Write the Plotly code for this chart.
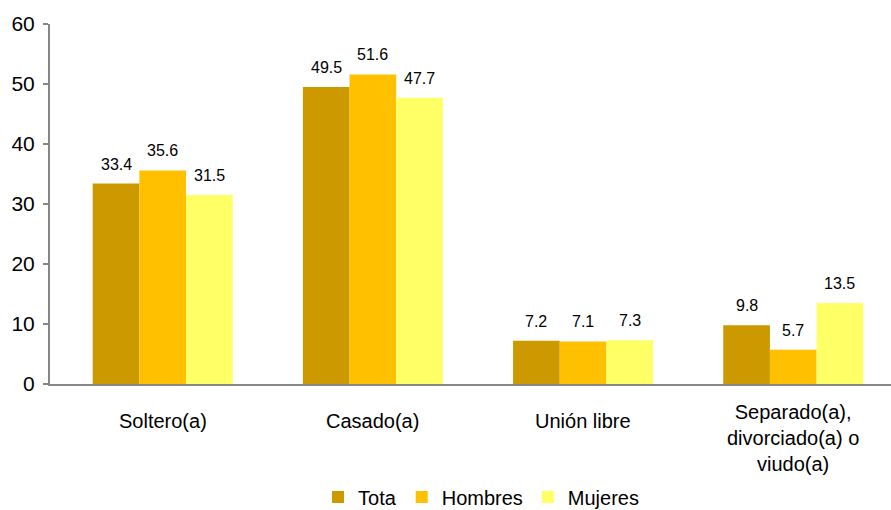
import plotly.graph_objects as go

categories = ["Soltero(a)", "Casado(a)", "Unión libre", "Separado(a),<br>divorciado(a) o<br>viudo(a)"]
tota = [33.4, 49.5, 7.2, 9.8]
hombres = [35.6, 51.6, 7.1, 5.7]
mujeres = [31.5, 47.7, 7.3, 13.5]
series_names = ["Tota", "Hombres", "Mujeres"]
series_values = [tota, hombres, mujeres]
colors = ["#CC9900", "#FFC000", "#FFFF66"]
y_ticks = [0, 10, 20, 30, 40, 50, 60]

FONT = "Liberation Sans, Arial, sans-serif"
bargap = 0.334

fig = go.Figure()
for name, vals, col in zip(series_names, series_values, colors):
    fig.add_trace(go.Bar(
        name=name, x=list(range(len(categories))), y=vals,
        marker=dict(color=col, line=dict(width=0)),
    ))

# data labels via annotations (placed through the axis scales)
n = len(series_names)
w = (1 - bargap) / n
for j, vals in enumerate(series_values):
    for i, v in enumerate(vals):
        fig.add_annotation(
            x=i + (j - (n - 1) / 2) * w, y=v, xref="x", yref="y",
            text=f"{v:.1f}", showarrow=False, yanchor="bottom", yshift=9,
            font=dict(family=FONT, size=16, color="#000000"),
        )

# category labels (multi-line label sits slightly higher, as in the original)
for i, cat in enumerate(categories):
    nlines = cat.count("<br>") + 1
    fig.add_annotation(
        x=i, y=0, xref="x", yref="paper", text=cat, showarrow=False,
        yanchor="middle", yshift=-(36.5 + (nlines - 1) * 8.5),
        font=dict(family=FONT, size=20, color="#000000"),
    )

fig.update_layout(
    width=891, height=510,
    margin=dict(l=50, r=0, t=24, b=126, autoexpand=False),
    paper_bgcolor="white", plot_bgcolor="white",
    barmode="group", bargap=bargap, bargroupgap=0,
    font=dict(family=FONT, size=20, color="#000000"),
    showlegend=True,
    legend=dict(orientation="h", x=0.5125, xanchor="center", y=-0.314, yanchor="middle",
                font=dict(family=FONT, size=20, color="#000000"),
                itemwidth=30, tracegroupgap=0),
)
fig.update_xaxes(
    range=[-0.536, 3.465], showticklabels=False,
    showline=True, linecolor="#868686", linewidth=2,
    ticks="", showgrid=False, zeroline=False,
)
fig.update_yaxes(
    range=[0, 60], tickvals=y_ticks,
    showline=True, linecolor="#868686", linewidth=2,
    ticks="outside", ticklen=5, tickcolor="#868686", tickwidth=1.5,
    showgrid=False, zeroline=False,
    tickfont=dict(family=FONT, size=21, color="#000000"),
    ticklabelstandoff=4,
)
fig.write_html("out.html", config={"displayModeBar": False},
               post_script="document.body.style.margin='0';")
